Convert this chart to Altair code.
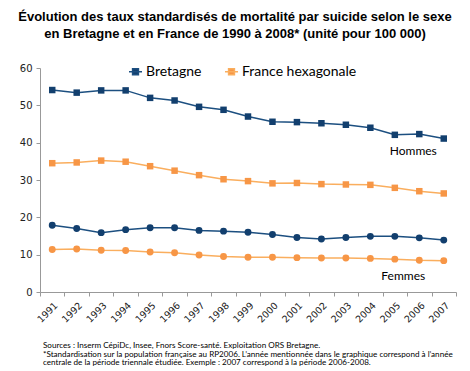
import altair as alt
import pandas as pd

years = [str(y) for y in range(1991, 2008)]
bretagne_hommes = [54.1, 53.4, 54.0, 54.0, 52.0, 51.3, 49.6, 48.8, 47.0, 45.6, 45.5, 45.2, 44.8, 44.0, 42.1, 42.3, 41.1]
france_hommes = [34.5, 34.7, 35.2, 34.9, 33.7, 32.5, 31.3, 30.2, 29.7, 29.1, 29.2, 28.9, 28.8, 28.7, 27.9, 27.0, 26.4]
bretagne_femmes = [17.9, 17.0, 15.9, 16.7, 17.2, 17.2, 16.5, 16.3, 16.0, 15.4, 14.6, 14.2, 14.6, 14.9, 14.9, 14.5, 13.9]
france_femmes = [11.4, 11.5, 11.2, 11.1, 10.7, 10.5, 9.9, 9.5, 9.3, 9.3, 9.2, 9.1, 9.1, 9.0, 8.8, 8.5, 8.4]

regions = ["Bretagne", "France hexagonale"]
line_colors = ["#1C4F80", "#FAAE5E"]
marker_colors = ["#123F6E", "#F79646"]

annot_text = ["Hommes", "Femmes"]
annot_year = ["2006", "2006"]
annot_value = [37.8, 4.3]

title_lines = [
    "Évolution des taux standardisés de mortalité par suicide selon le sexe",
    "en Bretagne et en France de 1990 à 2008* (unité pour 100 000)",
]
footnote_lines = [
    " Sources : Inserm CépiDc, Insee, Fnors Score-santé.  Exploitation ORS Bretagne.",
    "*Standardisation sur la population française au RP2006. L’année mentionnée dans le graphique correspond à l’année",
    "centrale de la période triennale étudiée. Exemple : 2007 correspond à la période 2006-2008.",
]

rows = []
for region, sex, vals in [
    ("Bretagne", "Hommes", bretagne_hommes),
    ("France hexagonale", "Hommes", france_hommes),
    ("Bretagne", "Femmes", bretagne_femmes),
    ("France hexagonale", "Femmes", france_femmes),
]:
    for y, v in zip(years, vals):
        rows.append({"region": region, "sex": sex, "year": y, "value": v})
df = pd.DataFrame(rows)

x_enc = alt.X(
    "year:N",
    sort=years,
    title=None,
    scale=alt.Scale(paddingInner=0, paddingOuter=0),
    axis=alt.Axis(
        labelAngle=-45,
        labelFont="DejaVu Sans",
        labelFontSize=9.5,
        labelColor="#222222",
        tickBand="extent",
        tickSize=4,
        tickColor="#999999",
        domainColor="#999999",
        grid=False,
        labelPadding=4,
    ),
)
y_enc = alt.Y(
    "value:Q",
    title=None,
    scale=alt.Scale(domain=[0, 60]),
    axis=alt.Axis(
        values=[0, 10, 20, 30, 40, 50, 60],
        tickCount=7,
        labelOverlap=False,
        labelFont="DejaVu Sans",
        labelFontSize=10,
        labelColor="#222222",
        tickSize=4,
        tickColor="#999999",
        domainColor="#999999",
        grid=False,
        labelPadding=4,
    ),
)

legend = alt.Legend(
    title=None,
    orient="none",
    legendX=88,
    legendY=-4,
    direction="horizontal",
    symbolType="M-1,0L1,0M-0.45,-0.45L0.45,-0.45L0.45,0.45L-0.45,0.45Z",
    symbolSize=169,
    symbolStrokeWidth=1.5,
    symbolOpacity=1,
    labelFont="Lato",
    labelFontSize=14,
    labelColor="#000000",
    labelOffset=3,
    columnPadding=20,
    padding=0,
)

base = alt.Chart(df)

lines = base.mark_line(strokeWidth=1.5).encode(
    x=x_enc,
    y=y_enc,
    detail="sex:N",
    stroke=alt.Stroke("region:N", scale=alt.Scale(domain=regions, range=line_colors), legend=legend),
)

fill_enc = alt.Fill("region:N", scale=alt.Scale(domain=regions, range=marker_colors), legend=legend)

points_h = base.transform_filter(alt.datum.sex == "Hommes").mark_point(
    filled=True, shape="square", size=42, opacity=1, strokeWidth=0
).encode(x=x_enc, y=y_enc, fill=fill_enc)

points_f = base.transform_filter(alt.datum.sex == "Femmes").mark_point(
    filled=True, shape="circle", size=48, opacity=1, strokeWidth=0
).encode(x=x_enc, y=y_enc, fill=fill_enc)

annot_df = pd.DataFrame({"text": annot_text, "year": annot_year, "value": annot_value})
annot_h = alt.Chart(annot_df).transform_filter(alt.datum.text == "Hommes").mark_text(
    font="Lato", fontSize=12, color="#000000", dx=-6
).encode(x=x_enc, y=y_enc, text="text:N")
annot_f = alt.Chart(annot_df).transform_filter(alt.datum.text == "Femmes").mark_text(
    font="Lato", fontSize=12, color="#000000", dx=-16
).encode(x=x_enc, y=y_enc, text="text:N")

foot = alt.Chart(pd.DataFrame({"a": [0]})).mark_text(
    text=footnote_lines,
    font="Lato",
    fontSize=8.1,
    lineHeight=8.6,
    align="left",
    baseline="middle",
    color="#000000",
).encode(x=alt.value(3), y=alt.value(278))

chart = (
    alt.layer(lines, points_h, points_f, annot_h, annot_f, foot)
    .properties(
        width=416,
        height=224,
        autosize=alt.AutoSizeParams(type="none"),
        padding={"left": 32, "top": 60, "right": 4, "bottom": 75},
        title=alt.TitleParams(
            text=title_lines,
            font="Liberation Sans",
            fontSize=13,
            fontWeight="bold",
            color="#000000",
            anchor="middle",
            dx=-13,
            offset=22,
            lineHeight=17,
        ),
    )
    .configure_view(stroke=None)
)

chart.save("out.html", embed_options={"renderer": "svg", "actions": False})
